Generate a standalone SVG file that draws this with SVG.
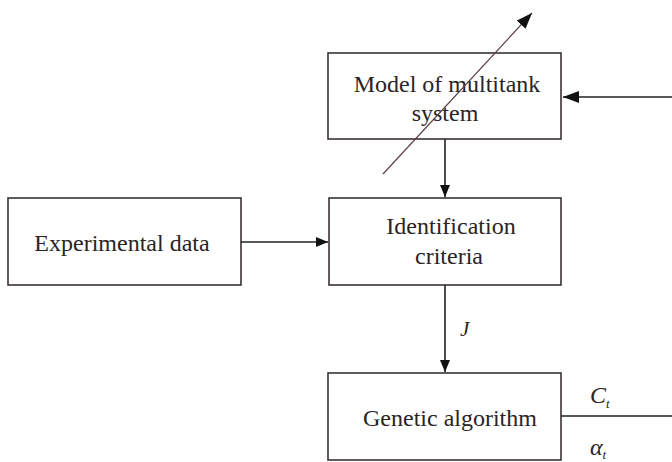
<svg xmlns="http://www.w3.org/2000/svg" width="672" height="462" viewBox="0 0 672 462">
<defs>
<style>
.box{fill:#fff;stroke:#3a3333;stroke-width:1.6}
.t{font-family:"Liberation Serif","Times New Roman",serif;font-size:24px;fill:#2a2424;text-anchor:middle}
.m{font-family:"Liberation Serif","Times New Roman",serif;font-style:italic;fill:#2a2424}
.ln{stroke:#222;stroke-width:1.6;fill:none}
</style>
<marker id="ah" viewBox="0 0 12 10" refX="12" refY="5" markerWidth="12" markerHeight="10" markerUnits="userSpaceOnUse" orient="auto">
<path d="M0,0 L12,5 L0,10 z" fill="#111"/>
</marker>
<marker id="ah2" viewBox="0 0 16 12" refX="16" refY="6" markerWidth="16" markerHeight="12" markerUnits="userSpaceOnUse" orient="auto">
<path d="M0,0 L16,6 L0,12 z" fill="#111"/>
</marker>
</defs>
<rect width="672" height="462" fill="#fff"/>
<g id="model">
<rect class="box" x="328" y="53" width="233" height="86"/>
<text class="t" x="447" y="92">Model of multitank</text>
<text class="t" x="445" y="121">system</text>
</g>
<g id="experimental">
<rect class="box" x="8" y="198" width="233" height="87"/>
<text class="t" x="122" y="251">Experimental data</text>
</g>
<g id="identification">
<rect class="box" x="329" y="198" width="232" height="87"/>
<text class="t" x="451" y="234">Identification</text>
<text class="t" x="449" y="264">criteria</text>
</g>
<g id="genetic">
<rect class="box" x="328" y="373" width="233" height="87"/>
<text class="t" x="450" y="426">Genetic algorithm</text>
</g>
<g id="connectors">
<line class="ln" x1="445" y1="139" x2="445" y2="197" marker-end="url(#ah)"/>
<line class="ln" x1="241" y1="242" x2="328" y2="242" marker-end="url(#ah)"/>
<line class="ln" x1="445" y1="285" x2="445" y2="372" marker-end="url(#ah)"/>
<line class="ln" x1="561" y1="416" x2="672" y2="416"/>
<line class="ln" x1="672" y1="97" x2="563" y2="97" marker-end="url(#ah2)"/>
<line x1="383" y1="174" x2="532" y2="13" stroke="#5a4040" stroke-width="1.2" marker-end="url(#ah2)"/>
<text class="m" x="460" y="336" font-size="21">J</text>
<text class="m" x="590" y="403" font-size="24">C<tspan font-size="13" dy="5">t</tspan></text>
<text class="m" x="590" y="455" font-size="24">α<tspan font-size="13" dy="4">t</tspan></text>
</g>
</svg>
